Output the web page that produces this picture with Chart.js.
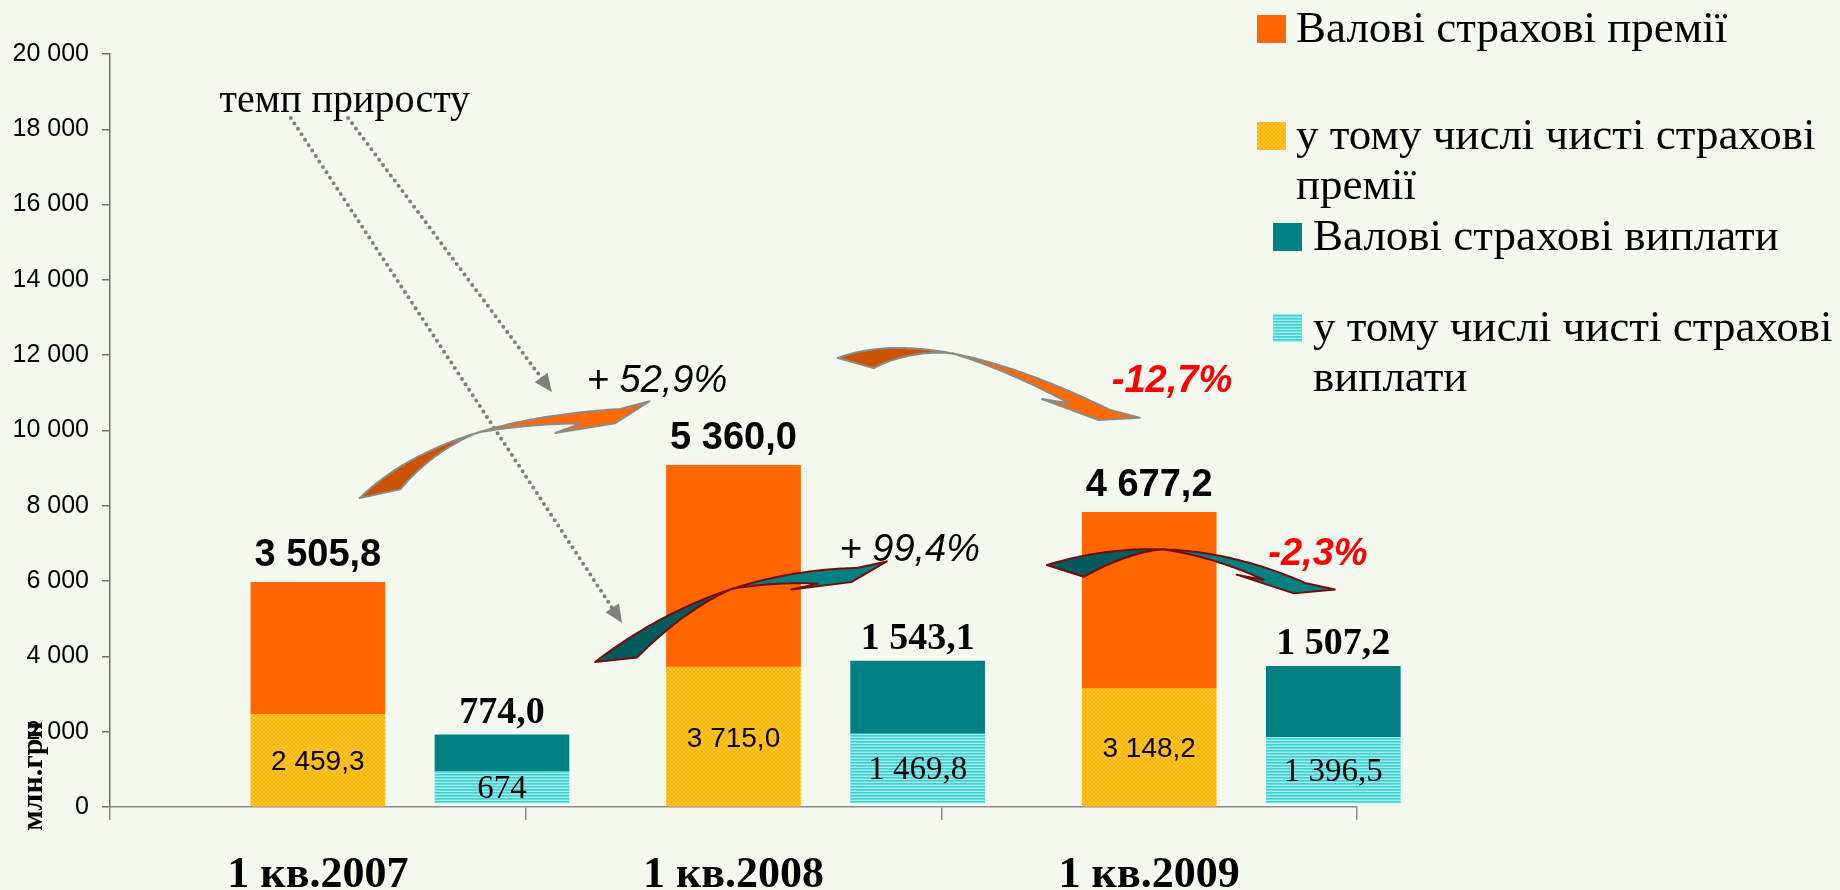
<!DOCTYPE html>
<html>
<head>
<meta charset="utf-8">
<script src="https://cdn.jsdelivr.net/npm/chart.js@4.4.0/dist/chart.umd.min.js"></script>
<style>
  html, body { margin: 0; padding: 0; background: #f4f9ef; }
</style>
</head>
<body>
<canvas id="chart--insurance" width="1840" height="890"></canvas>
<script>
const quarters = ['1 кв.2007', '1 кв.2008', '1 кв.2009']
const seriesNames = ['Валові страхові премії', 'у тому числі чисті страхові премії', 'Валові страхові виплати', 'у тому числі чисті страхові виплати']
const grossPremiums = [3505.8, 5360.0, 4677.2]
const netPremiums = [2459.3, 3715.0, 3148.2]
const grossPayouts = [774.0, 1543.1, 1507.2]
const netPayouts = [674, 1469.8, 1396.5]
const yTicks = [0, 2000, 4000, 6000, 8000, 10000, 12000, 14000, 16000, 18000, 20000]
const yTitle = 'млн.грн'
const noteText = 'темп приросту'

// annotation anchors, in axis units (x: quarter index, y: value axis)
const growthAt = {
	premiums: [[1.316, 11022], [2.555, 11022]],
	payouts: [[1.924, 6534], [2.906, 6428]]
}
const noteAt = [0.565, 18459]
const pointers = [
	{ from: [0.435, 18300], to: [1.232, 4887] },
	{ from: [0.573, 18300], to: [1.063, 11023] }
]
const curvedArrows = [
	{ p0: [0.601, 8207], c: [0.794, 10279], p1: [1.227, 10571], kind: 'prem', w0: 22, skew: 35, tc: 0.55, w1: 11 },
	{ p0: [1.751, 11926], c: [1.977, 12855], p1: [2.406, 10544], kind: 'prem', w0: 22, skew: 30, tc: 0.5, w1: 11 },
	{ p0: [1.167, 3851], c: [1.453, 6268], p1: [1.797, 6348], kind: 'pay', w0: 22, skew: 36, tc: 0.55, w1: 13 },
	{ p0: [2.254, 6428], c: [2.564, 7463], p1: [2.875, 5950], kind: 'pay', w0: 22, skew: 32, tc: 0.45, w1: 12 }
]

const SANS = '"Liberation Sans", Arial, sans-serif'
const SERIF = '"Liberation Serif", "Times New Roman", serif'
const payShift = 0.443

const canvas = document.getElementById('chart--insurance')
const ctx = canvas.getContext('2d')

function makePattern(w, h, draw) {
	const c = document.createElement('canvas')
	c.width = w
	c.height = h
	draw(c.getContext('2d'))
	return ctx.createPattern(c, 'repeat')
}

const yellowFill = makePattern(4, 4, (g) => {
	g.fillStyle = '#ffb000'
	g.fillRect(0, 0, 4, 4)
	g.fillStyle = '#ffc933'
	for (let i = 0; i < 4; i++) {
		g.fillRect(i, i, 1, 1)
		g.fillRect(3 - i, i, 1, 1)
	}
})
const cyanFill = makePattern(1, 3, (g) => {
	g.fillStyle = '#42cfcf'
	g.fillRect(0, 0, 1, 1)
	g.fillStyle = '#66dcdc'
	g.fillRect(0, 1, 1, 1)
	g.fillStyle = '#9fecec'
	g.fillRect(0, 2, 1, 1)
})
const orange = '#ff6600'
const teal = '#008080'

function fmt(v, decimals) {
	let s = decimals ? v.toFixed(1) : String(v)
	let parts = s.split('.')
	let int = parts[0].replace(/\B(?=(\d{3})+(?!\d))/g, ' ')
	return parts[1] ? int + ',' + parts[1] : int
}

function growth(list) {
	let out = []
	for (let i = 1; i < list.length; i++) {
		let p = (list[i] / list[i - 1] - 1) * 100
		let s = Math.abs(p).toFixed(1).replace('.', ',') + '%'
		out.push({ text: p >= 0 ? '+ ' + s : '-' + s, up: p >= 0 })
	}
	return out
}

function points(list, shift) {
	return list.map((v, i) => ({ x: i + 0.5 + shift, y: v }))
}

function ribbonArrow(g, a, sx, sy) {
	const P0 = [sx(a.p0[0]), sy(a.p0[1])]
	const C = [sx(a.c[0]), sy(a.c[1])]
	const P1 = [sx(a.p1[0]), sy(a.p1[1])]
	const pt = (t) => [
		(1 - t) * (1 - t) * P0[0] + 2 * t * (1 - t) * C[0] + t * t * P1[0],
		(1 - t) * (1 - t) * P0[1] + 2 * t * (1 - t) * C[1] + t * t * P1[1]
	]
	const dir = (t) => {
		let dx = 2 * (1 - t) * (C[0] - P0[0]) + 2 * t * (P1[0] - C[0])
		let dy = 2 * (1 - t) * (C[1] - P0[1]) + 2 * t * (P1[1] - C[1])
		let l = Math.hypot(dx, dy)
		return [dx / l, dy / l]
	}
	// find where the neck of the head starts (40px back along the curve)
	let tn = 1, acc = 0, prev = pt(1)
	while (tn > 0 && acc < 40) {
		tn -= 0.005
		let p = pt(tn)
		acc += Math.hypot(p[0] - prev[0], p[1] - prev[1])
		prev = p
	}
	const inner = (t) => {
		let p = pt(t), d = dir(t), n = [-d[1], d[0]]
		let w, s = 0
		if (t <= a.tc) {
			let k = 1 - t / a.tc
			w = a.w0 * Math.pow(k, 1.3)
			s = a.skew * k
		} else {
			w = a.w1 * (t - a.tc) / (tn - a.tc)
		}
		return [p[0] + n[0] * w + d[0] * s, p[1] + n[1] * w + d[1] * s]
	}
	const fills = a.kind === 'prem' ? ['#cc5200', '#ff6a00'] : ['#005c5c', '#008080']
	const line = a.kind === 'prem' ? '#8a8a8a' : '#7a0a0a'
	const steps = 40

	g.save()
	g.lineJoin = 'round'
	g.lineWidth = 2
	g.strokeStyle = line

	g.beginPath()
	for (let i = 0; i <= steps; i++) {
		let p = pt(a.tc * i / steps)
		i === 0 ? g.moveTo(p[0], p[1]) : g.lineTo(p[0], p[1])
	}
	for (let i = steps; i >= 0; i--) {
		let p = inner(a.tc * i / steps)
		g.lineTo(p[0], p[1])
	}
	g.closePath()
	g.fillStyle = fills[0]
	g.fill()
	g.stroke()

	const d1 = dir(1), n1 = [-d1[1], d1[0]]
	const at = (al, no) => [P1[0] + d1[0] * al + n1[0] * no, P1[1] + d1[1] * al + n1[1] * no]
	g.beginPath()
	for (let i = 0; i <= steps; i++) {
		let p = pt(a.tc + (1 - a.tc) * i / steps)
		i === 0 ? g.moveTo(p[0], p[1]) : g.lineTo(p[0], p[1])
	}
	for (const q of [at(30, -6), at(-6, 14), at(-66, 20)]) g.lineTo(q[0], q[1])
	for (let i = steps; i >= 0; i--) {
		let p = inner(a.tc + (tn - a.tc) * i / steps)
		g.lineTo(p[0], p[1])
	}
	g.closePath()
	g.fillStyle = fills[1]
	g.fill()
	g.stroke()
	g.restore()
}

function pointerArrow(g, p, sx, sy) {
	let x0 = sx(p.from[0]), y0 = sy(p.from[1])
	let x1 = sx(p.to[0]), y1 = sy(p.to[1])
	let l = Math.hypot(x1 - x0, y1 - y0)
	let dx = (x1 - x0) / l, dy = (y1 - y0) / l
	g.save()
	g.strokeStyle = '#7f7f7f'
	g.fillStyle = '#7f7f7f'
	g.lineWidth = 4
	g.lineCap = 'round'
	g.setLineDash([0, 6.5])
	g.beginPath()
	g.moveTo(x0, y0)
	g.lineTo(x1 - dx * 14, y1 - dy * 14)
	g.stroke()
	g.setLineDash([])
	g.beginPath()
	g.moveTo(x1, y1)
	g.lineTo(x1 - dx * 18 - dy * 8, y1 - dy * 18 + dx * 8)
	g.lineTo(x1 - dx * 18 + dy * 8, y1 - dy * 18 - dx * 8)
	g.closePath()
	g.fill()
	g.restore()
}

function wrapText(g, text, maxW) {
	let words = text.split(' '), lines = [], cur = ''
	for (const w of words) {
		let test = cur ? cur + ' ' + w : w
		if (cur && g.measureText(test).width > maxW) {
			lines.push(cur)
			cur = w
		} else {
			cur = test
		}
	}
	lines.push(cur)
	return lines
}

const backgroundPlugin = {
	id: 'background',
	beforeDraw(chart) {
		const g = chart.ctx
		g.save()
		g.fillStyle = '#f4f9ef'
		g.fillRect(0, 0, chart.width, chart.height)
		g.restore()
	}
}

const decorPlugin = {
	id: 'decor',
	afterDatasetsDraw(chart) {
		const g = chart.ctx
		const sx = (v) => chart.scales.x.getPixelForValue(v)
		const sy = (v) => chart.scales.y.getPixelForValue(v)

		pointers.forEach((p) => pointerArrow(g, p, sx, sy))
		curvedArrows.forEach((a) => ribbonArrow(g, a, sx, sy))

		g.save()
		g.textAlign = 'center'
		g.textBaseline = 'alphabetic'
		g.fillStyle = '#000'
		g.font = '40px ' + SERIF
		g.fillText(noteText, sx(noteAt[0]), sy(noteAt[1]))

		const drawGrowth = (list, pos) => {
			list.forEach((gr, i) => {
				g.font = (gr.up ? 'italic 38px ' : 'italic bold 38px ') + SANS
				g.fillStyle = gr.up ? '#000' : '#ff0000'
				g.fillText(gr.text, sx(pos[i][0]), sy(pos[i][1]))
			})
		}
		drawGrowth(growth(grossPremiums), growthAt.premiums)
		drawGrowth(growth(grossPayouts), growthAt.payouts)

		// values above and inside the bars
		const meta = (i) => chart.getDatasetMeta(i).data
		g.fillStyle = '#000'
		meta(1).forEach((bar, i) => {
			g.font = 'bold 38px ' + SANS
			g.fillText(fmt(grossPremiums[i], true), bar.x, bar.y - 16)
		})
		meta(3).forEach((bar, i) => {
			g.font = 'bold 38px ' + SERIF
			g.fillText(fmt(grossPayouts[i], true), bar.x, bar.y - 12)
		})
		meta(0).forEach((bar, i) => {
			g.font = '28px ' + SANS
			g.fillText(fmt(netPremiums[i], true), bar.x, (bar.y + bar.base) / 2 + 10)
		})
		meta(2).forEach((bar, i) => {
			g.font = '33px ' + SERIF
			g.fillText(fmt(netPayouts[i], !Number.isInteger(netPayouts[i])), bar.x, (bar.y + bar.base) / 2 + 11)
		})

		// axis title
		g.save()
		g.translate(42, 776)
		g.rotate(-Math.PI / 2)
		g.font = 'bold 30px ' + SERIF
		g.fillText(yTitle, 0, 0)
		g.restore()
		g.restore()
	}
}

const legendPlugin = {
	id: 'sideLegend',
	afterDraw(chart) {
		const g = chart.ctx
		const order = [1, 0, 3, 2]
		const slots = [
			{ sx: 1257, tx: 1296, base: 42 },
			{ sx: 1257, tx: 1296, base: 149 },
			{ sx: 1273, tx: 1313, base: 250 },
			{ sx: 1273, tx: 1313, base: 341 }
		]
		g.save()
		g.font = '45px ' + SERIF
		g.textAlign = 'left'
		g.textBaseline = 'alphabetic'
		order.forEach((di, k) => {
			const ds = chart.data.datasets[di]
			const s = slots[k]
			g.fillStyle = ds.backgroundColor
			g.fillRect(s.sx, s.base - 27, 29, 28)
			g.fillStyle = '#000'
			wrapText(g, ds.label, 540).forEach((line, j) => {
				g.fillText(line, s.tx, s.base + j * 50)
			})
		})
		g.restore()
	}
}

const chart__insurance = new Chart(ctx, {
	type: 'bar',
	data: {
		datasets: [
			{ label: seriesNames[1], data: points(netPremiums, 0), stack: 'prem', yAxisID: 'y', backgroundColor: yellowFill },
			{ label: seriesNames[0], data: points(grossPremiums, 0), stack: 'prem', yAxisID: 'y', backgroundColor: orange },
			{ label: seriesNames[3], data: points(netPayouts, payShift), stack: 'pay', yAxisID: 'y2', backgroundColor: cyanFill },
			{ label: seriesNames[2], data: points(grossPayouts, payShift), stack: 'pay', yAxisID: 'y2', backgroundColor: teal }
		].map((d) => Object.assign(d, { grouped: false, barThickness: 134, borderWidth: 0, clip: false }))
	},
	options: {
		responsive: false,
		animation: false,
		layout: { padding: { top: 54, right: 483, left: 0, bottom: 0 } },
		plugins: {
			legend: { display: false },
			tooltip: { enabled: false }
		},
		scales: {
			x: {
				type: 'linear',
				offset: false,
				min: 0,
				max: quarters.length,
				afterFit: (s) => { s.height = 83 },
				afterBuildTicks: (s) => {
					let t = []
					for (let v = 0; v <= quarters.length; v += 0.5) t.push({ value: v })
					s.ticks = t
				},
				ticks: {
					autoSkip: false,
					maxRotation: 0,
					padding: 29,
					color: '#000',
					font: { family: SERIF, size: 44, weight: 'bold' },
					callback: (v) => (Number.isInteger(v) ? '' : quarters[Math.floor(v)])
				},
				grid: {
					offset: false,
					drawOnChartArea: false,
					tickLength: 13,
					lineWidth: 1.5,
					color: (c) => (c.tick && Number.isInteger(c.tick.value) ? '#8c8c8c' : 'rgba(0,0,0,0)')
				},
				border: { color: '#8c8c8c', width: 1.5 }
			},
			y: {
				stacked: true,
				min: 0,
				max: 20000,
				afterFit: (s) => { s.width = 110 },
				afterBuildTicks: (s) => { s.ticks = yTicks.map((v) => ({ value: v })) },
				ticks: {
					padding: 13,
					color: '#000',
					font: { family: SANS, size: 25 },
					callback: (v) => fmt(v, false)
				},
				grid: { drawOnChartArea: false, tickLength: 8, color: '#707070', lineWidth: 1.5 },
				border: { color: '#707070', width: 1.5 }
			},
			y2: {
				stacked: true,
				display: false,
				min: -85,
				max: 15900
			}
		}
	},
	plugins: [backgroundPlugin, decorPlugin, legendPlugin]
})
</script>
</body>
</html>
